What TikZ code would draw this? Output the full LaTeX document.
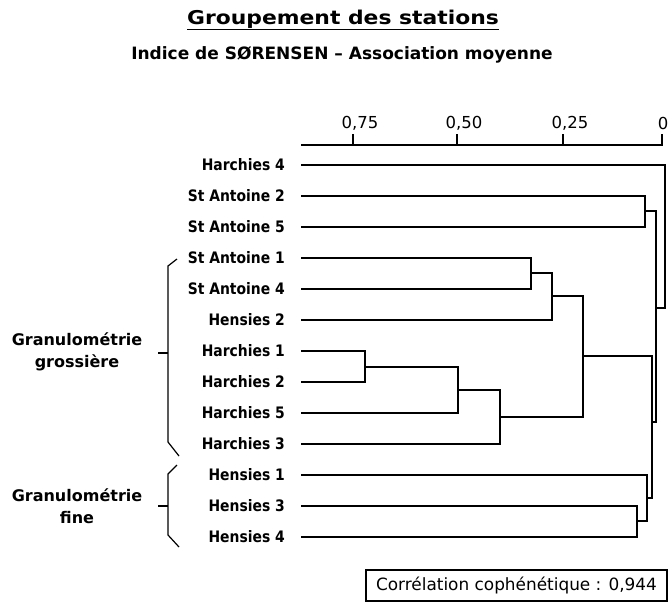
\documentclass[tikz,border=0pt]{standalone}
\usepackage{fontspec}
\setmainfont{DejaVu Sans}
\newfontfamily\leaffont{DejaVu Sans}[FakeStretch=0.88]
\newfontfamily\titlefont{DejaVu Sans}[FakeStretch=1.15]
\usetikzlibrary{positioning}
\tikzstyle{branch} = [line width=1.5pt,line cap=rect]
\tikzstyle{leaf} = [anchor=east,inner sep=0pt,font=\leaffont\fontsize{15.8}{18}\selectfont\bfseries]
\tikzstyle{groupe} = [align=center,inner sep=0pt,font=\fontsize{16}{22}\selectfont\bfseries]
\tikzstyle{brace} = [line width=1.2pt]
\tikzstyle{graduation} = [inner sep=0pt,font=\fontsize{16.5}{18}\selectfont]

\begin{document}
\begin{tikzpicture}[x=1pt,y=-1pt]
  \useasboundingbox (0,0) rectangle (669,603);
  % titles
  \node[inner sep=0pt,font=\titlefont\fontsize{19}{22}\selectfont\bfseries] (titre) at (343,20) {\underline{Groupement des stations}};
  \node[inner sep=0pt,font=\fontsize{17}{20}\selectfont\bfseries] (soustitre) at (342,55) {Indice de SØRENSEN – Association moyenne};
  % scale
  \coordinate (ax0) at (302,145);
  \coordinate (ax1) at (662,145);
  \draw[branch] (ax0) -- (ax1) -- ++(0,-10);
  \node[graduation] (g0) at (663,123) {0};
  \foreach \v/\x in {75/353,50/457,25/563}{
    \coordinate (t\v) at (\x,145);
    \draw[branch] (t\v) -- ++(0,-10);
    \node[graduation] (g\v) at (\x+7,123) {0,\v};
  }
  % stations
  \foreach \nom/\txt/\y in {h4/Harchies 4/165, sa2/St Antoine 2/196, sa5/St Antoine 5/227,
      sa1/St Antoine 1/258, sa4/St Antoine 4/289, he2/Hensies 2/320, h1/Harchies 1/351,
      h2/Harchies 2/382, h5/Harchies 5/413, h3/Harchies 3/444, he1/Hensies 1/475,
      he3/Hensies 3/506, he4/Hensies 4/537}{
    \node[leaf] (\nom) at (285,\y) {\txt};
    \coordinate (l\nom) at (302,\y);
  }
  % merge points
  \coordinate (mSA25) at (645,211);
  \coordinate (mSA14) at (531,273);
  \coordinate (mSAH) at (552,296);
  \coordinate (mH12) at (365,367);
  \coordinate (mH125) at (458,390);
  \coordinate (mHar) at (500,417);
  \coordinate (mGros) at (583,356);
  \coordinate (mH34) at (637,521);
  \coordinate (mFin) at (647,498);
  \coordinate (mSta) at (652,422);
  \coordinate (mTout) at (656,308);
  \coordinate (racine) at (665,240);
  % dendrogram
  \draw[branch] (lsa2) -| (mSA25) |- (lsa5);
  \draw[branch] (lsa1) -| (mSA14) |- (lsa4);
  \draw[branch] (mSA14) -| (mSAH) |- (lhe2);
  \draw[branch] (lh1) -| (mH12) |- (lh2);
  \draw[branch] (mH12) -| (mH125) |- (lh5);
  \draw[branch] (mH125) -| (mHar) |- (lh3);
  \draw[branch] (mSAH) -| (mGros) |- (mHar);
  \draw[branch] (lhe3) -| (mH34) |- (lhe4);
  \draw[branch] (lhe1) -| (mFin) |- (mH34);
  \draw[branch] (mGros) -| (mSta) |- (mFin);
  \draw[branch] (mSA25) -| (mTout) |- (mSta);
  \draw[branch] (lh4) -| (racine) |- (mTout);
  % groups
  \node[groupe] (grossiere) at (77,352) {Granulométrie\\grossière};
  \node[groupe] (fine) at (77,506) {Granulométrie\\fine};
  \draw[brace] (177,259) -- (168,266) -- (168,442) -- (179,456);
  \draw[brace] (158,353) -- (168,353);
  \draw[brace] (177,465) -- (168,474) -- (168,535) -- (179,547);
  \draw[brace] (158,506) -- (168,506);
  % cophenetic correlation
  \node[draw,line width=1.2pt,minimum width=301pt,minimum height=31pt,inner sep=0pt,
    font=\fontsize{16.9}{20}\selectfont] (coph) at (516.5,585.5) {Corrélation cophénétique : 0,944};
\end{tikzpicture}
\end{document}
